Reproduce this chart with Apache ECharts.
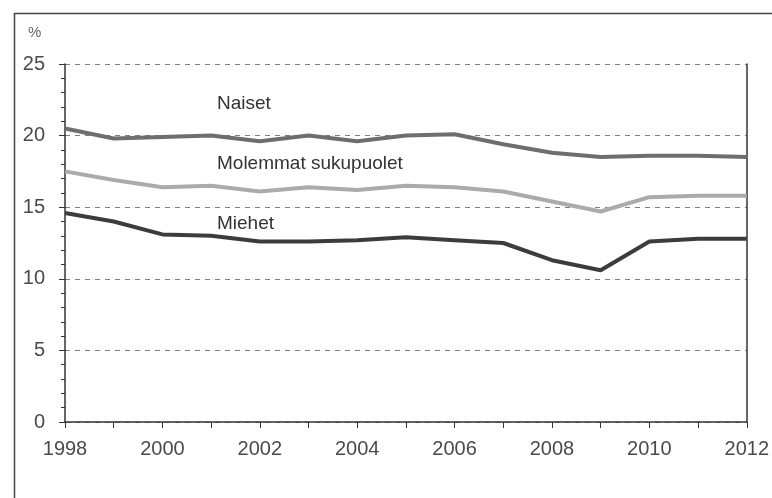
<!DOCTYPE html>
<html>
<head>
<meta charset="utf-8">
<script src="https://cdn.jsdelivr.net/npm/echarts@6/dist/echarts.min.js"></script>
<style>
  html, body { margin: 0; padding: 0; background: #fff; }
  #chart { width: 772px; height: 498px; }
</style>
</head>
<body>
<div id="chart"></div>
<script>
  var years = ['1998', '1999', '2000', '2001', '2002', '2003', '2004', '2005',
    '2006', '2007', '2008', '2009', '2010', '2011', '2012'];
  var naiset = [20.5, 19.8, 19.9, 20.0, 19.6, 20.0, 19.6, 20.0, 20.1, 19.4, 18.8, 18.5, 18.6, 18.6, 18.5];
  var molemmat = [17.5, 16.9, 16.4, 16.5, 16.1, 16.4, 16.2, 16.5, 16.4, 16.1, 15.4, 14.7, 15.7, 15.8, 15.8];
  var miehet = [14.6, 14.0, 13.1, 13.0, 12.6, 12.6, 12.7, 12.9, 12.7, 12.5, 11.3, 10.6, 12.6, 12.8, 12.8];

  var font = 'Liberation Sans, Arial, sans-serif';
  var myChart = echarts.init(document.getElementById('chart'));

  var options = {
    animation: false,
    backgroundColor: '#fff',
    grid: {
      left: 65,
      right: 25,
      top: 64,
      bottom: 76
    },
    xAxis: {
      type: 'category',
      boundaryGap: false,
      data: years,
      axisLine: { lineStyle: { color: '#333', width: 1.5 } },
      axisTick: { show: true, interval: 0, length: 6, lineStyle: { color: '#333' } },
      axisLabel: {
        interval: 1,
        margin: 17,
        color: '#4a4a4a',
        fontFamily: font,
        fontSize: 20
      },
      splitLine: { show: false }
    },
    yAxis: [{
      type: 'value',
      min: 0,
      max: 25,
      interval: 5,
      axisLine: { show: true, lineStyle: { color: '#333', width: 1.5 } },
      axisTick: { show: true, length: 6, lineStyle: { color: '#333' } },
      minorTick: { show: true, splitNumber: 5, length: 4, lineStyle: { color: '#333' } },
      axisLabel: {
        margin: 20,
        color: '#4a4a4a',
        fontFamily: font,
        fontSize: 20
      },
      splitLine: {
        show: true,
        lineStyle: { color: '#808080', type: [5, 5], width: 1 }
      }
    }, {
      type: 'value',
      position: 'right',
      min: 0,
      max: 25,
      interval: 5,
      axisLine: { show: true, lineStyle: { color: '#333', width: 1.5 } },
      axisTick: { show: false },
      axisLabel: { show: false },
      splitLine: { show: false }
    }],
    graphic: [
      {
        type: 'rect',
        left: 12,
        top: 11,
        shape: { width: 800, height: 520 },
        style: { fill: 'none', stroke: '#444', lineWidth: 1.5 },
        z: -1
      },
      {
        type: 'text', left: 28, top: 25,
        style: { text: '%', font: '15px ' + font, fill: '#666' }
      },
      {
        type: 'text', left: 217, top: 94,
        style: { text: 'Naiset', font: '19px ' + font, fill: '#333' }
      },
      {
        type: 'text', left: 217, top: 154,
        style: { text: 'Molemmat sukupuolet', font: '19px ' + font, fill: '#333' }
      },
      {
        type: 'text', left: 217, top: 214,
        style: { text: 'Miehet', font: '19px ' + font, fill: '#333' }
      }
    ],
    series: [{
      name: 'Naiset',
      type: 'line',
      data: naiset,
      symbol: 'none',
      lineStyle: { color: '#6e6e6e', width: 4 }
    }, {
      name: 'Molemmat sukupuolet',
      type: 'line',
      data: molemmat,
      symbol: 'none',
      lineStyle: { color: '#ababab', width: 4 }
    }, {
      name: 'Miehet',
      type: 'line',
      data: miehet,
      symbol: 'none',
      lineStyle: { color: '#3c3c3c', width: 4 }
    }]
  };
  myChart.setOption(options);
</script>
</body>
</html>
